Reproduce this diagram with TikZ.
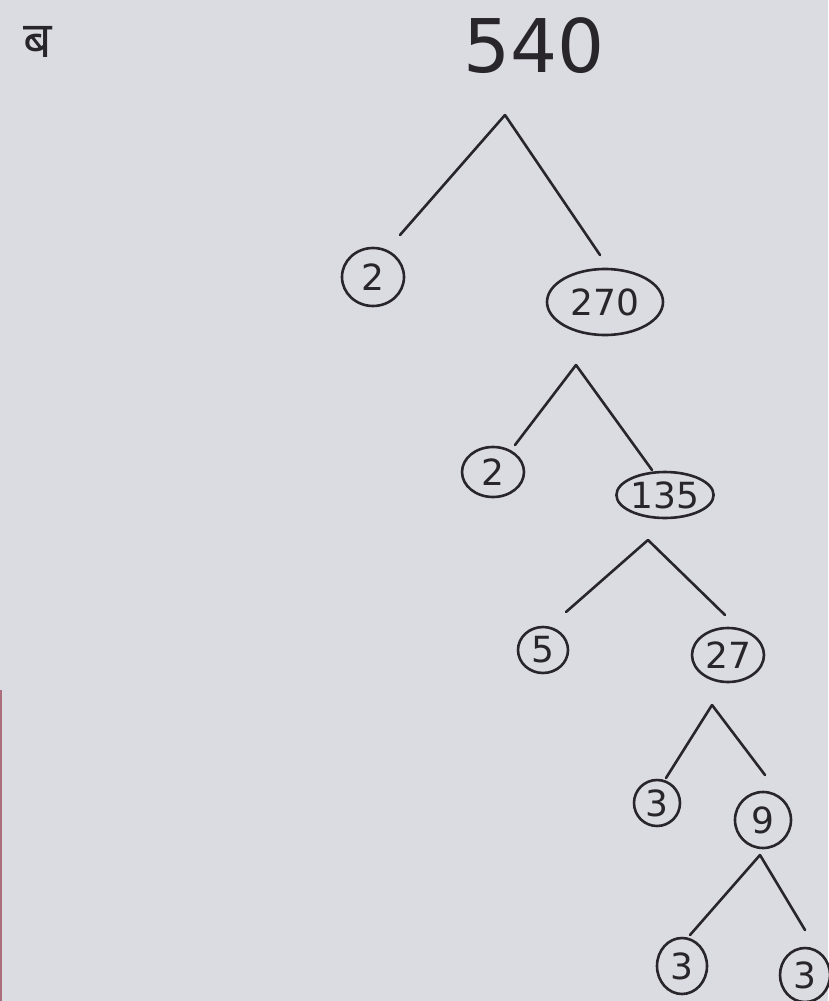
\documentclass[tikz,border=0pt]{standalone}
\usepackage{fontspec}
\setmainfont{DejaVu Sans}
\newfontfamily\devfont[Script=Devanagari]{Noto Sans}
\usetikzlibrary{shapes.geometric}
\definecolor{paper}{RGB}{219,220,226}
\definecolor{ink}{RGB}{40,38,42}
\definecolor{edge}{RGB}{170,110,125}
\tikzset{
  num/.style={ellipse, draw=ink, line width=2.6pt, text=ink, inner sep=0pt, font=\fontsize{36}{38}\selectfont},
  branch/.style={draw=ink, line width=2.6pt, line cap=round},
}
\begin{document}
\begin{tikzpicture}[x=1pt,y=-1pt]
\fill[paper] (0,0) rectangle (828,1001);
\useasboundingbox (0,0) rectangle (828,1001);
\fill[edge] (0,690) rectangle (2,1001);
% title
\node[text=ink, font=\devfont\fontsize{50}{52}\selectfont] (ba) at (38,42) {ब};
\node[text=ink, font=\fontsize{74}{76}\selectfont] (top) at (534,46) {540};
% level 1
\coordinate (a1) at (505,115);
\coordinate (a1l) at (400,235);
\coordinate (a1r) at (600,255);
\node[num, minimum width=62, minimum height=58] (n2a) at (373,277) {2};
\node[num, minimum width=116, minimum height=66] (n270) at (605,302) {270};
\draw[branch] (a1) -- (a1l);
\draw[branch] (a1) -- (a1r);
% level 2
\coordinate (a2) at (576,365);
\coordinate (a2l) at (515,445);
\coordinate (a2r) at (652,470);
\node[num, minimum width=62, minimum height=50] (n2b) at (493,472) {2};
\node[num, minimum width=82, minimum height=46] (n135) at (665,495) {135};
\draw[branch] (a2) -- (a2l);
\draw[branch] (a2) -- (a2r);
% level 3
\coordinate (a3) at (648,540);
\coordinate (a3l) at (566,612);
\coordinate (a3r) at (725,615);
\node[num, minimum width=50, minimum height=46] (n5) at (543,650) {5};
\node[num, minimum width=72, minimum height=54] (n27) at (728,655) {27};
\draw[branch] (a3) -- (a3l);
\draw[branch] (a3) -- (a3r);
% level 4
\coordinate (a4) at (712,705);
\coordinate (a4l) at (666,778);
\coordinate (a4r) at (765,775);
\node[num, minimum width=46, minimum height=46] (n3a) at (657,803) {3};
\node[num, minimum width=56, minimum height=56] (n9) at (763,820) {9};
\draw[branch] (a4) -- (a4l);
\draw[branch] (a4) -- (a4r);
% level 5
\coordinate (a5) at (760,855);
\coordinate (a5l) at (690,935);
\coordinate (a5r) at (805,930);
\node[num, minimum width=50, minimum height=56] (n3b) at (682,966) {3};
\node[num, minimum width=50, minimum height=54] (n3c) at (805,975) {3};
\draw[branch] (a5) -- (a5l);
\draw[branch] (a5) -- (a5r);
\end{tikzpicture}
\end{document}
